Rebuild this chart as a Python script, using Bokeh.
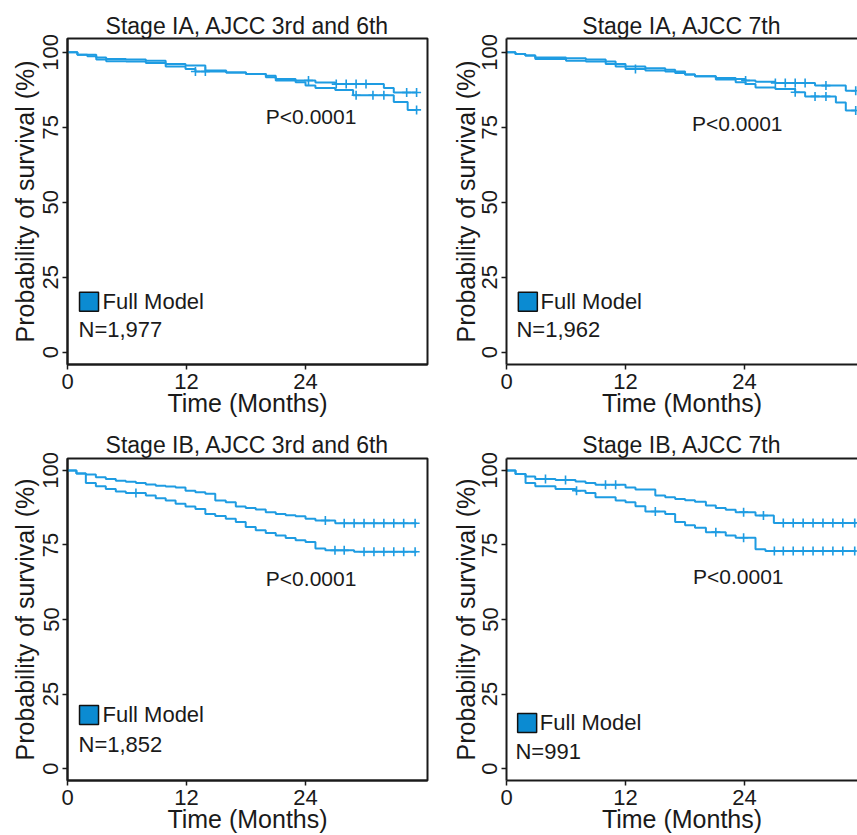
import math
from bokeh.plotting import figure
from bokeh.models import Range1d, FixedTicker, LinearAxis, Title
from bokeh.layouts import column, row
from bokeh.embed import file_html
from bokeh.resources import INLINE
from bokeh.core.properties import value

# ---------------- data ----------------
x_ticks = [0, 12, 24]
y_ticks = [0, 25, 50, 75, 100]
x_label = "Time (Months)"
y_label = "Probability of survival (%)"
p_text = "P<0.0001"
legend_text = "Full Model"

titles = ["Stage IA, AJCC 3rd and 6th", "Stage IA, AJCC 7th",
          "Stage IB, AJCC 3rd and 6th", "Stage IB, AJCC 7th"]
n_texts = ["N=1,977", "N=1,962", "N=1,852", "N=991"]
end_time = 35.2

# Stage IA, AJCC 3rd and 6th
ia36_a_t = [0, 1.0, 2.9, 3.9, 5.9, 7.9, 9.9, 11.9, 13.9, 16.0, 18.0, 20.0, 21.0, 23.0, 25.0, 27.0, 31.9, 32.9]
ia36_a_v = [100, 99.2, 98.3, 97.8, 97.6, 97.2, 96.1, 95.6, 93.9, 93.3, 92.8, 92.2, 91.1, 90.6, 89.9, 89.4, 88.1, 86.6]
ia36_a_c = [24.3, 27.1, 28.1, 29.1, 30.1, 34.2, 35.2]
ia36_b_t = [0, 1.0, 2.0, 2.9, 3.9, 5.9, 7.9, 9.9, 11.9, 12.9, 16.0, 18.0, 20.0, 21.0, 23.0, 24.0, 25.0, 27.0, 28.8, 32.9, 34.3]
ia36_b_v = [100, 99.2, 98.7, 97.6, 97.0, 96.9, 96.4, 95.3, 94.4, 93.6, 93.3, 92.8, 91.7, 90.6, 90.0, 88.9, 88.1, 87.4, 85.7, 83.4, 80.8]
ia36_b_c = [12.9, 13.9, 29.1, 30.8, 31.9, 35.2]

# Stage IA, AJCC 7th
ia7_a_t = [0, 0.9, 1.9, 2.9, 6.0, 8.0, 10.0, 11.0, 12.0, 14.0, 16.0, 17.0, 18.0, 19.0, 21.1, 23.1, 24.1, 25.1, 27.1, 31.1, 34.2]
ia7_a_v = [100, 99.4, 98.9, 98.3, 98.0, 97.6, 96.9, 96.1, 95.3, 94.7, 94.2, 93.6, 92.6, 92.0, 91.4, 91.1, 90.6, 90.2, 89.8, 88.9, 87.2]
ia7_a_c = [24.1, 27.1, 28.1, 29.1, 30.1, 32.2, 35.2]
ia7_b_t = [0, 0.9, 1.9, 2.9, 6.0, 8.0, 10.0, 11.0, 12.0, 14.0, 16.0, 17.0, 18.0, 19.0, 21.1, 23.1, 24.1, 25.1, 27.1, 29.1, 30.1, 33.2, 34.2]
ia7_b_v = [100, 99.4, 98.9, 97.8, 97.2, 96.9, 96.1, 95.3, 94.4, 93.9, 93.6, 93.1, 92.6, 92.0, 90.9, 90.0, 89.4, 88.3, 87.8, 86.7, 85.3, 83.3, 80.6]
ia7_b_c = [13.0, 29.1, 31.1, 32.2, 35.2]

# Stage IB, AJCC 3rd and 6th
ib36_a_t = [0, 0.9, 1.85, 2.86, 3.86, 4.87, 5.88, 6.9, 7.9, 8.9, 9.9, 10.9, 11.9, 12.9, 13.9, 14.9, 15.96, 16.97, 17.97, 18.98, 19.99, 21.0, 22.0, 23.0, 24.0, 25.0, 27.0]
ib36_a_v = [100, 99.0, 98.6, 97.7, 97.1, 96.5, 96.2, 95.8, 95.3, 94.9, 94.6, 94.3, 93.2, 92.7, 92.2, 89.9, 89.3, 87.9, 87.4, 86.9, 86.0, 85.4, 85.0, 84.6, 83.8, 83.2, 82.3]
ib36_a_c = [26.0, 27.9, 28.9, 29.9, 30.9, 31.9, 32.9, 33.9, 35.05]
ib36_b_t = [0, 0.9, 1.85, 2.86, 3.86, 4.87, 5.88, 7.9, 8.9, 9.9, 10.9, 11.9, 12.9, 13.9, 14.9, 15.96, 16.97, 17.97, 18.98, 19.99, 21.0, 22.0, 23.0, 24.0, 25.0, 26.0, 28.9]
ib36_b_v = [100, 99.0, 95.8, 94.7, 93.8, 92.9, 92.4, 91.6, 90.7, 89.9, 88.8, 87.9, 87.1, 85.4, 84.7, 83.8, 82.7, 81.0, 79.9, 79.0, 78.2, 77.3, 76.6, 76.0, 73.8, 73.2, 72.7]
ib36_b_c = [6.9, 26.97, 27.9, 29.9, 30.9, 31.9, 32.9, 33.9, 35.05]

# Stage IB, AJCC 7th
ib7_a_t = [0, 0.91, 1.92, 2.9, 4.94, 6.96, 7.97, 8.97, 12.0, 13.0, 15.0, 16.0, 17.0, 18.0, 19.0, 20.1, 21.1, 22.1, 23.1, 25.1, 26.95]
ib7_a_v = [100, 98.8, 98.0, 97.1, 96.8, 96.3, 95.8, 95.2, 94.3, 93.6, 91.6, 91.0, 90.4, 90.0, 89.5, 88.2, 87.4, 86.8, 86.0, 84.9, 82.4]
ib7_a_c = [3.93, 5.95, 9.98, 11.0, 23.9, 25.9, 27.9, 28.9, 29.9, 30.9, 31.9, 32.9, 33.9, 35.1]
ib7_b_t = [0, 0.91, 1.92, 2.9, 4.94, 6.96, 7.97, 8.97, 11.0, 12.0, 13.0, 14.0, 16.0, 17.0, 18.0, 19.0, 20.1, 22.1, 23.1, 25.1, 26.1]
ib7_b_v = [100, 98.8, 95.8, 94.7, 93.8, 93.2, 92.4, 91.0, 89.9, 89.3, 88.0, 86.2, 85.4, 82.7, 81.6, 80.8, 79.3, 78.2, 77.4, 73.6, 73.0]
ib7_b_c = [7.06, 15.0, 21.1, 23.9, 27.0, 27.9, 28.9, 29.9, 30.9, 31.9, 32.9, 33.9, 35.1]

# ---------------- style ----------------
FONT = "Liberation Sans"
LINE = "#1e9ce2"
FILL = "#0b8bd2"
INK = "#1a1a1a"


def step_value(ts, vs, x):
    v = vs[0]
    for t, val in zip(ts, vs):
        if t <= x:
            v = val
    return v


def style_axis(ax, ticks):
    ax.ticker = FixedTicker(ticks=ticks)
    ax.minor_tick_line_color = None
    ax.major_tick_in = 0
    ax.major_tick_out = 5
    ax.major_tick_line_width = 1.5
    ax.major_tick_line_color = INK
    ax.axis_line_color = INK
    ax.axis_line_width = 2
    ax.major_label_text_font = FONT
    ax.major_label_text_font_size = "22px"
    ax.major_label_text_color = INK
    ax.major_label_standoff = 4
    ax.axis_label_text_font = FONT
    ax.axis_label_text_font_style = "normal"
    ax.axis_label_text_color = INK


def make_panel(title, n_text, curves, cfg):
    p = figure(width=cfg["w"], height=cfg["h"], title=None,
               x_range=Range1d(0, cfg["xmax"]), y_range=Range1d(cfg["ymin"], cfg["ymax"]),
               output_backend="svg", toolbar_location=None,
               min_border_left=cfg["bl"], min_border_right=cfg["br"],
               min_border_top=cfg["bt"], min_border_bottom=cfg["bb"])
    p.xgrid.visible = False
    p.ygrid.visible = False
    p.background_fill_color = "white"
    p.border_fill_color = "white"

    xa = p.below[0]
    ya = p.left[0]
    style_axis(xa, x_ticks)
    style_axis(ya, y_ticks)
    ya.major_label_orientation = "vertical"
    xa.axis_label = x_label
    xa.axis_label_text_font_size = "25px"
    xa.axis_label_standoff = -3
    ya.axis_label = y_label
    ya.axis_label_text_font_size = "25px"
    ya.axis_label_standoff = cfg["ys"]

    if cfg["outline"]:
        p.outline_line_color = INK
        p.outline_line_width = 2
    else:
        p.outline_line_color = None
        top = LinearAxis(ticker=FixedTicker(ticks=[]), major_label_text_font_size="0px",
                         axis_line_color=INK, axis_line_width=2,
                         major_tick_in=0, major_tick_out=0, major_label_standoff=0,
                         major_tick_line_color=None, minor_tick_line_color=None)
        p.add_layout(top, "above")

    p.add_layout(Title(text=title, align="center", text_font=FONT, text_font_size="23px",
                       text_font_style="normal", text_color=INK, standoff=cfg["ts"]), "above")

    for ts, vs, cs in curves:
        xs = list(ts) + [end_time]
        ys = list(vs) + [vs[-1]]
        p.step(xs, ys, mode="after", line_color=LINE, line_width=2)
        cy = [step_value(ts, vs, c) for c in cs]
        p.scatter(cs, cy, marker="cross", size=9, line_color=LINE, line_width=1.6)

    # legend square and texts (text positions nudged for the svg baseline)
    dy = 2.7
    p.scatter([cfg["sq"][0]], [cfg["sq"][1]], marker="square", size=19,
              fill_color=FILL, line_color="#111111", line_width=1.5)
    p.text([cfg["fm"][0]], [cfg["fm"][1] + dy], text=[legend_text], text_font=value(FONT),
           text_font_size="22px", text_color=INK, text_baseline="alphabetic", text_align="left")
    p.text([cfg["n"][0]], [cfg["n"][1] + dy], text=[n_text], text_font=value(FONT),
           text_font_size="22px", text_color=INK, text_baseline="alphabetic", text_align="left")
    p.text([cfg["p"][0]], [cfg["p"][1] + dy], text=[p_text], text_font=value(FONT),
           text_font_size="21px", text_color=INK, text_baseline="alphabetic", text_align="left")
    return p


cfgs = [
    dict(w=447, h=428, bl=67, br=20, bt=38, bb=64, xmax=36.3, ymin=-4.1, ymax=104.6, outline=True, ts=0, ys=2,
         sq=(2.17, 16.8), fm=(3.53, 14.2), n=(1.11, 5.0), p=(20.0, 76.0)),
    dict(w=410, h=428, bl=59, br=0, bt=38, bb=64, xmax=35.38, ymin=-4.1, ymax=104.6, outline=False, ts=0, ys=0,
         sq=(2.15, 16.8), fm=(3.43, 14.2), n=(1.0, 5.0), p=(18.7, 73.4)),
    dict(w=447, h=407, bl=67, br=20, bt=30, bb=53, xmax=36.3, ymin=-4.0, ymax=104.0, outline=True, ts=2, ys=2,
         sq=(2.17, 18.0), fm=(3.53, 15.3), n=(1.11, 5.3), p=(20.0, 61.1)),
    dict(w=410, h=407, bl=59, br=0, bt=30, bb=53, xmax=35.38, ymin=-4.0, ymax=104.0, outline=False, ts=2, ys=0,
         sq=(2.08, 15.3), fm=(3.36, 12.8), n=(0.9, 3.1), p=(18.8, 61.7)),
]

curve_sets = [
    [(ia36_a_t, ia36_a_v, ia36_a_c), (ia36_b_t, ia36_b_v, ia36_b_c)],
    [(ia7_a_t, ia7_a_v, ia7_a_c), (ia7_b_t, ia7_b_v, ia7_b_c)],
    [(ib36_a_t, ib36_a_v, ib36_a_c), (ib36_b_t, ib36_b_v, ib36_b_c)],
    [(ib7_a_t, ib7_a_v, ib7_a_c), (ib7_b_t, ib7_b_v, ib7_b_c)],
]

figs = [make_panel(titles[i], n_texts[i], curve_sets[i], cfgs[i]) for i in range(4)]
layout = column(row(figs[0], figs[1]), row(figs[2], figs[3]))

open("out.html", "w").write(file_html(layout, INLINE))
